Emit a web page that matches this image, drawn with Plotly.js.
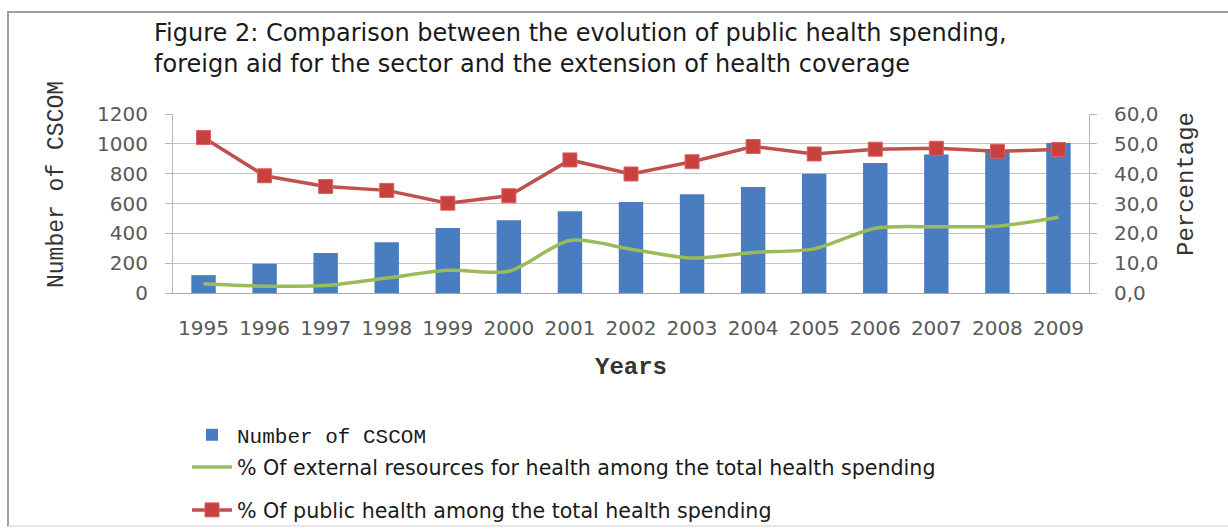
<!DOCTYPE html>
<html>
<head>
<meta charset="utf-8">
<script src="https://cdn.plot.ly/plotly-3.0.1.min.js"></script>
<style>
  html, body { margin: 0; padding: 0; background: #ffffff; }
  #wrap { position: relative; width: 1228px; height: 531px; overflow: hidden; }
  #frame { position: absolute; left: 7px; top: 11px; width: 1300px; height: 512px;
           border-left: 2px solid #a0a0a0; border-top: 2px solid #a0a0a0; border-bottom: 2px solid #e6e6e6; }
  #chart { position: absolute; left: 0; top: 0; width: 1228px; height: 531px; }
</style>
</head>
<body>
<div id="wrap">
  <div id="frame"></div>
  <div id="chart"></div>
</div>
<script>
// ---- data ----
const years = ['1995','1996','1997','1998','1999','2000','2001','2002','2003','2004','2005','2006','2007','2008','2009'];
const cscomCount = [120, 196, 268, 340, 436, 488, 548, 610, 662, 710, 800, 872, 928, 960, 1005];
const externalPct = [3.1, 2.3, 2.5, 5.0, 7.6, 7.3, 17.6, 14.7, 11.7, 13.6, 14.8, 21.7, 22.2, 22.4, 25.4];
const publicPct = [52.1, 39.3, 35.7, 34.4, 30.1, 32.6, 44.6, 39.9, 44.0, 49.1, 46.6, 48.2, 48.5, 47.5, 48.1];

const seriesNames = [
  'Number of CSCOM',
  '% Of external resources for health among the total health spending',
  '% Of public health among the total health spending'
];
const chartTitle = 'Figure 2: Comparison between the evolution of public health spending,<br>foreign aid for the sector and the extension of health coverage';
const leftTitle = 'Number of CSCOM';
const rightTitle = 'Percentage';
const xTitle = 'Years';

const mono = '"Liberation Mono", "Courier New", monospace';
const sans = '"DejaVu Sans", Verdana, sans-serif';
const tickFont = { family: '"DejaVu Sans", Verdana, sans-serif', size: 20, color: '#595959' };

const traces = [
  {
    type: 'bar', x: years, y: cscomCount, name: seriesNames[0],
    marker: { color: '#4a7dc0' }, yaxis: 'y', legend: 'legend'
  },
  {
    type: 'scatter', mode: 'lines', x: years, y: externalPct, name: seriesNames[1],
    line: { color: '#9bbb59', width: 3.5, shape: 'spline', smoothing: 0.8 },
    yaxis: 'y2', legend: 'legend2'
  },
  {
    type: 'scatter', mode: 'lines+markers', x: years, y: publicPct, name: seriesNames[2],
    line: { color: '#c0504d', width: 3.5 },
    marker: { symbol: 'square', size: 14, color: '#c8413e', line: { color: '#d9605c', width: 1 } },
    yaxis: 'y2', legend: 'legend3'
  }
];

const FW = 1228, FH = 531;
const W = 916, H = 179, L = 173, T = 114;
function px(xp) { return (xp - L) / W; }
function py(yp) { return (T + H - yp) / H; }

function legendAt(xp, yp, font) {
  return {
    xref: 'container', yref: 'container',
    x: xp / FW, y: 1 - yp / FH, xanchor: 'left', yanchor: 'middle',
    font: font, bgcolor: 'rgba(0,0,0,0)', itemwidth: 40
  };
}

const layout = {
  width: FW, height: FH,
  margin: { l: L, r: FW - L - W, t: T, b: FH - T - H, pad: 0, autoexpand: false },
  paper_bgcolor: 'rgba(0,0,0,0)',
  plot_bgcolor: 'rgba(0,0,0,0)',
  separators: ', ',
  bargap: 0.6,
  title: {
    text: chartTitle,
    font: { family: sans, size: 24, color: '#1a1a1a' },
    xref: 'container', x: 154 / FW, xanchor: 'left',
    yref: 'container', y: 1 - 41 / FH, yanchor: 'top'
  },
  xaxis: {
    type: 'category', automargin: false,
    range: [-0.5, 14.5],
    tickfont: tickFont,
    showline: true, linecolor: '#a6a6a6', linewidth: 1,
    ticks: '', ticklabelstandoff: 17,
    showgrid: false,
    title: { text: xTitle, font: { family: mono, size: 24, color: '#333333', weight: 'bold' }, standoff: 18 }
  },
  yaxis: {
    automargin: false,
    range: [0, 1200], dtick: 200, tick0: 0,
    tickfont: tickFont,
    showgrid: true, gridcolor: '#c4c4c4', gridwidth: 1,
    showline: true, linecolor: '#b4b4c8', linewidth: 1,
    ticks: 'outside', ticklen: 7, tickcolor: '#b4b4c8',
    ticklabelstandoff: 13,
    zeroline: false
  },
  yaxis2: {
    automargin: false,
    overlaying: 'y', side: 'right',
    range: [0, 60], dtick: 10, tick0: 0, tickformat: '.1f',
    tickfont: tickFont,
    showgrid: false,
    showline: true, linecolor: '#b4b4c8', linewidth: 1,
    ticks: 'outside', ticklen: 7, tickcolor: '#b4b4c8',
    ticklabelstandoff: 13,
    zeroline: false
  },
  annotations: [
    { text: leftTitle, textangle: -90, xref: 'paper', yref: 'paper',
      x: px(57), y: py(185), xanchor: 'center', yanchor: 'middle', showarrow: false,
      font: { family: mono, size: 23, color: '#333333' } },
    { text: rightTitle, textangle: -90, xref: 'paper', yref: 'paper',
      x: px(1186), y: py(184), xanchor: 'center', yanchor: 'middle', showarrow: false,
      font: { family: mono, size: 24, color: '#333333' } }
  ],
  legend: legendAt(187, 435, { family: mono, size: 21, color: '#1a1a1a' }),
  legend2: legendAt(187, 467, { family: sans, size: 20.6, color: '#1a1a1a' }),
  legend3: legendAt(187, 510, { family: sans, size: 20.6, color: '#1a1a1a' }),
  showlegend: true
};

Plotly.newPlot('chart', traces, layout, { displayModeBar: false, staticPlot: true });
</script>
</body>
</html>
